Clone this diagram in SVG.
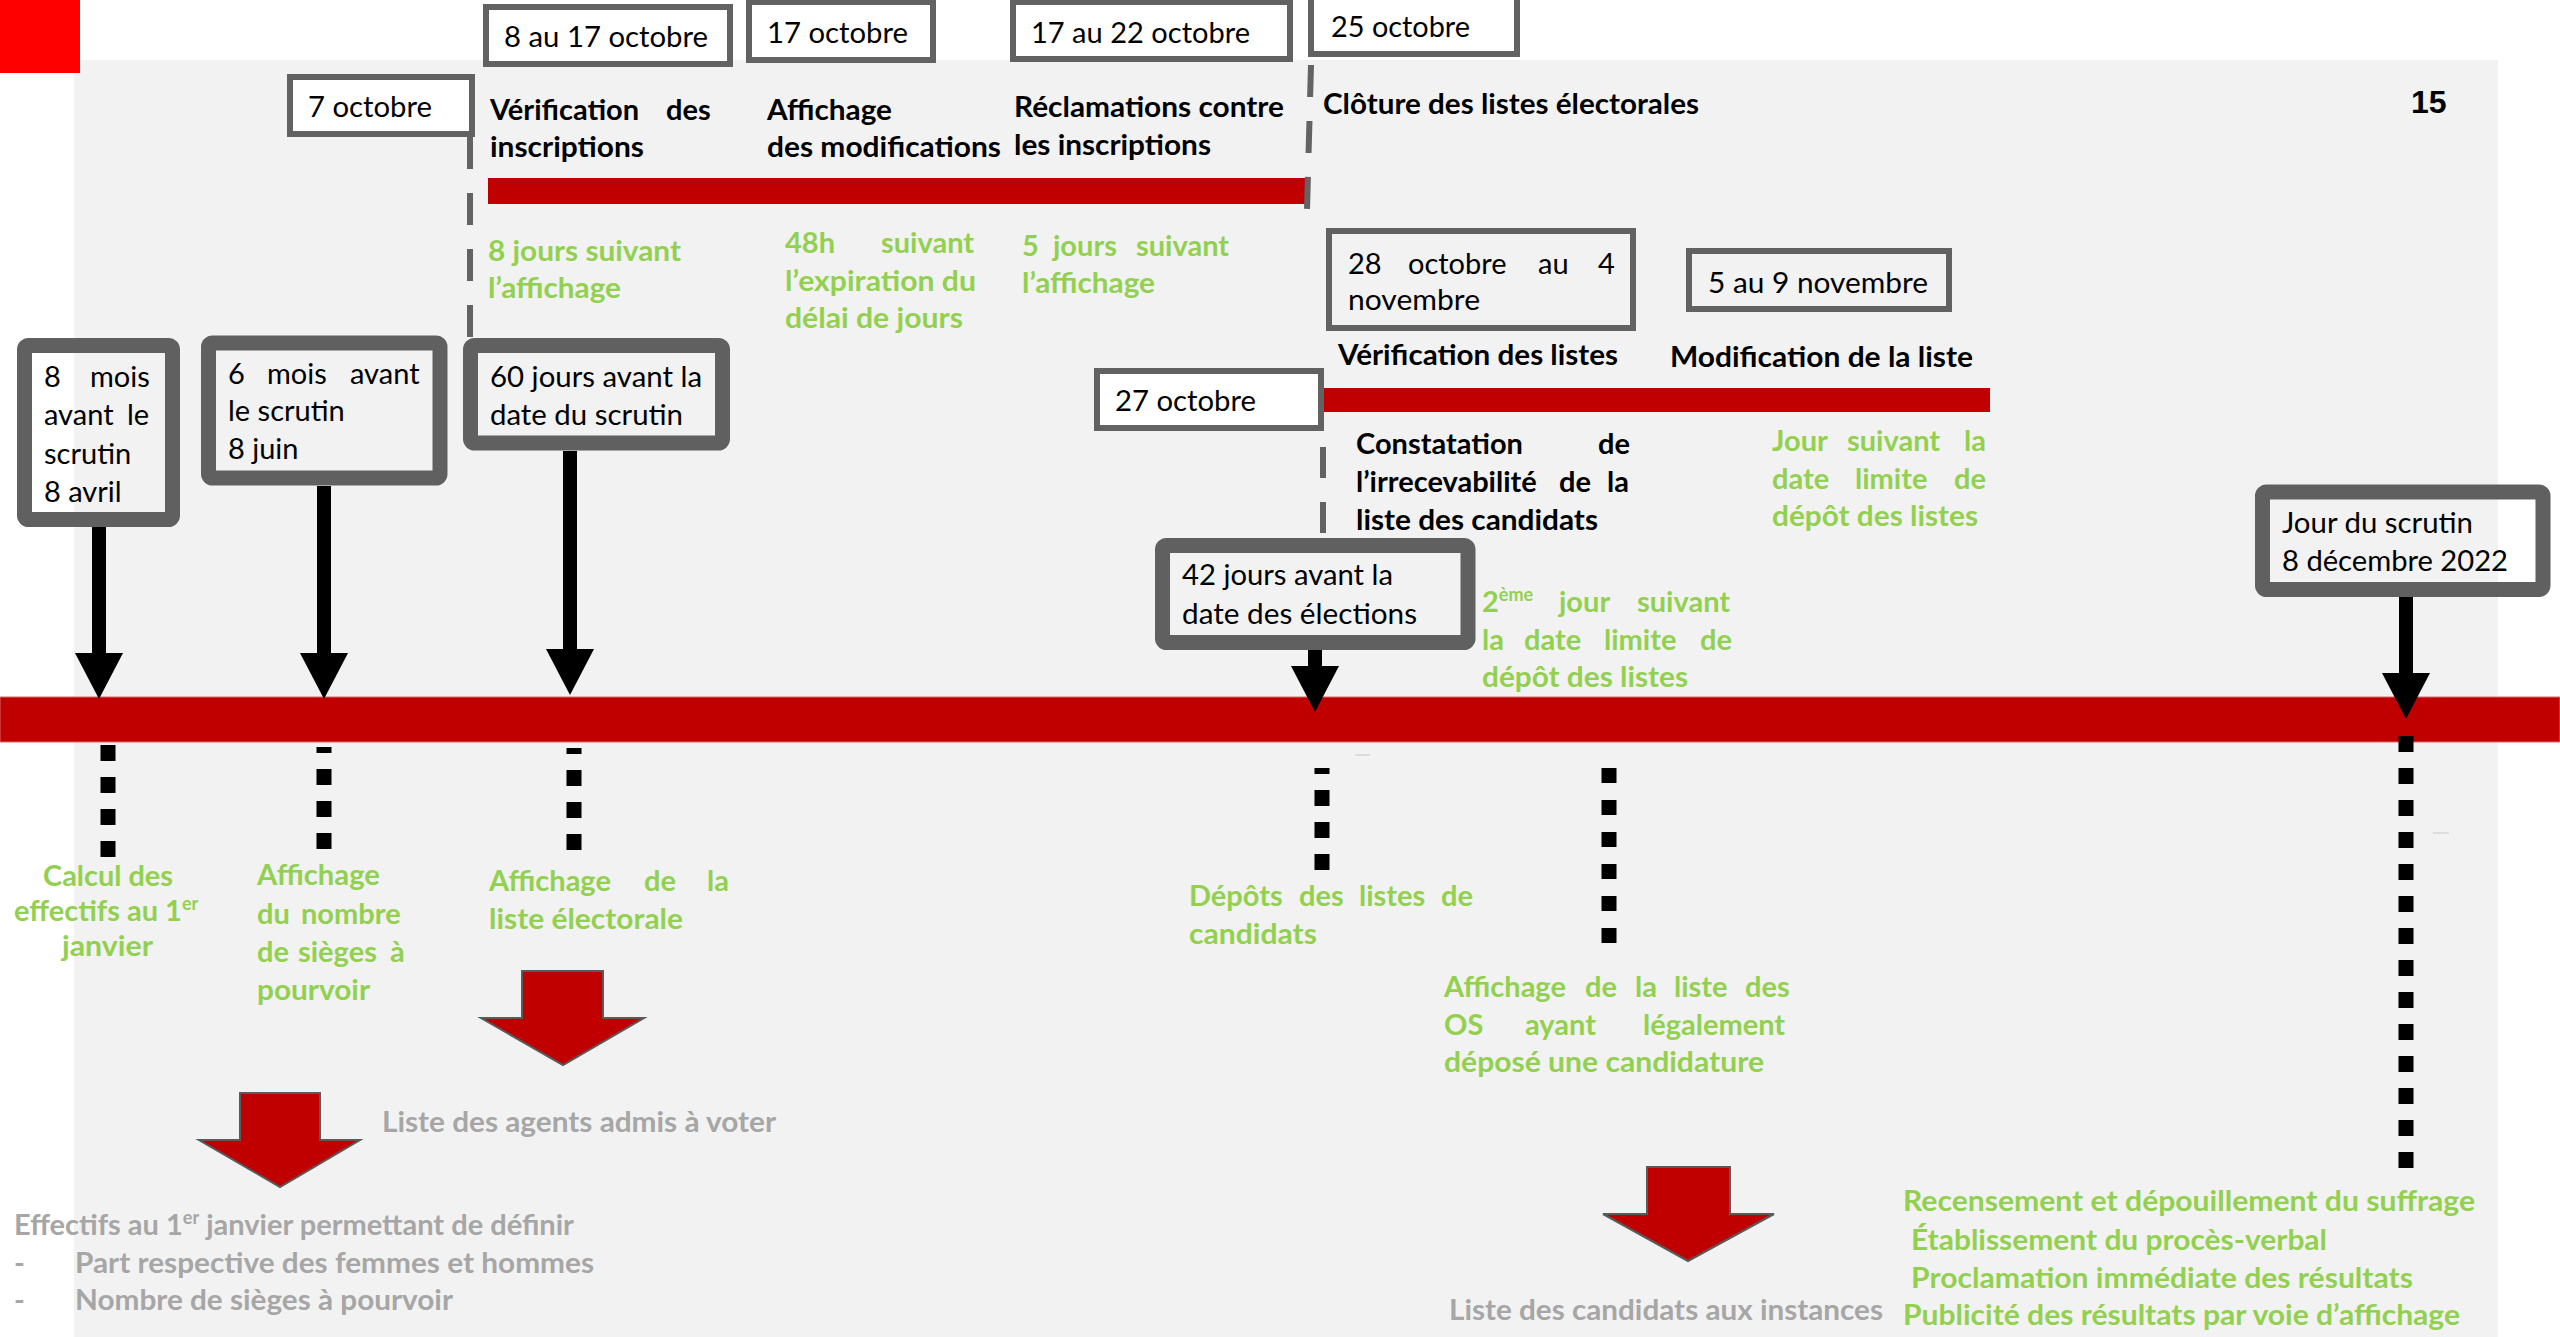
<svg xmlns="http://www.w3.org/2000/svg" width="2560" height="1337" viewBox="0 0 2560 1337">
<defs>
<style>
text{font-family:Lato,"Liberation Sans",sans-serif;}
.r{font-size:29px;fill:#000;}
.k{font-size:29px;font-weight:bold;fill:#000;}
.g{font-size:29px;font-weight:bold;fill:#92d050;}
.s{font-size:29px;font-weight:bold;fill:#a6a6a6;}
.tb{fill:#fff;stroke:#626262;stroke-width:6;}
.tn{fill:none;stroke:#626262;stroke-width:6;}
.tk{fill:none;stroke:#606060;stroke-width:15;}
.bar{fill:#c00000;}
.dash{stroke:#636363;stroke-width:6;stroke-dasharray:32 24;fill:none;}
.dot{stroke:#000;stroke-width:15;stroke-dasharray:16 16;fill:none;}
.shaft{stroke:#000;stroke-width:14;fill:none;marker-end:url(#ah);}
.blk{fill:#c00000;stroke:#5a5a5a;stroke-width:2;}
.sup{font-size:18px;}
</style>
<marker id="ah" viewBox="0 0 46 48" refX="0" refY="24" markerWidth="46" markerHeight="48" markerUnits="userSpaceOnUse" orient="auto"><path d="M0,0 L46,24 L0,48 z" fill="#000"/></marker>
</defs>

<rect x="0" y="0" width="2560" height="1337" fill="#ffffff"/>
<rect id="background" x="74" y="60" width="2424" height="1277" fill="#f2f2f2"/>
<rect id="corner" x="0" y="0" width="80" height="73" fill="#ff0000"/>

<g id="timeline">
<rect class="bar" x="0" y="697" width="2560" height="45" stroke="#d86a6a" stroke-width="1"/>
<rect class="bar" x="488" y="178" width="817" height="26"/>
<rect class="bar" x="1317" y="388" width="673" height="24"/>
</g>

<g id="connectors">
<line class="dash" x1="470" y1="137" x2="470" y2="340"/>
<line class="dash" x1="1311" y1="65" x2="1307" y2="210"/>
<line class="dash" x1="1323" y1="447" x2="1323" y2="536" style="stroke-dasharray:31 24"/>
<line class="shaft" x1="99" y1="527" x2="99" y2="653"/>
<line class="shaft" x1="324" y1="486" x2="324" y2="653"/>
<line class="shaft" x1="570" y1="451" x2="570" y2="649"/>
<line class="shaft" x1="1315" y1="650" x2="1315" y2="666"/>
<line class="shaft" x1="2406" y1="597" x2="2406" y2="673"/>
<line class="dot" x1="108" y1="745" x2="108" y2="857"/>
<line class="dot" x1="324" y1="747" x2="324" y2="849" stroke-dashoffset="10"/>
<line class="dot" x1="574" y1="748" x2="574" y2="851" stroke-dashoffset="10"/>
<line class="dot" x1="1322" y1="768" x2="1322" y2="870" stroke-dashoffset="10"/>
<line class="dot" x1="1609" y1="768" x2="1609" y2="943" style="stroke-dasharray:15 17"/>
<line class="dot" x1="2406" y1="736" x2="2406" y2="1168"/>
<line x1="1355" y1="755" x2="1370" y2="755" stroke="#c8c8c8" stroke-width="1"/>
<line x1="2433" y1="833" x2="2449" y2="833" stroke="#c8c8c8" stroke-width="1"/>
</g>

<g id="page-number"><text x="2411" y="113" style="font-family:'Liberation Sans',Arial,sans-serif;font-size:32px;font-weight:bold;fill:#000">15</text></g>

<g id="n-7-octobre">
<rect class="tb" x="290" y="77" width="182" height="57"/>
<text class="r" x="308" y="117" textLength="124" lengthAdjust="spacingAndGlyphs">7 octobre</text>
</g>
<g id="n-8-17-octobre">
<rect class="tb" x="486" y="7" width="244" height="57"/>
<text class="r" x="504" y="47" textLength="204" lengthAdjust="spacingAndGlyphs">8 au 17 octobre</text>
</g>
<g id="n-17-octobre">
<rect class="tb" x="749" y="2" width="184" height="58"/>
<text class="r" x="767" y="43" textLength="141" lengthAdjust="spacingAndGlyphs">17 octobre</text>
</g>
<g id="n-17-22-octobre">
<rect class="tb" x="1013" y="2" width="277" height="57"/>
<text class="r" x="1031" y="43" textLength="219" lengthAdjust="spacingAndGlyphs">17 au 22 octobre</text>
</g>
<g id="n-25-octobre">
<rect class="tb" x="1311" y="-3" width="206" height="57"/>
<text class="r" x="1331" y="37" textLength="139" lengthAdjust="spacingAndGlyphs">25 octobre</text>
</g>
<g id="n-28-oct-4-nov">
<rect class="tn" x="1329" y="231" width="304" height="97"/>
<text class="r" y="274"><tspan x="1348">28</tspan><tspan x="1408">octobre</tspan><tspan x="1538">au</tspan><tspan x="1598">4</tspan></text>
<text class="r" x="1348" y="310" textLength="132" lengthAdjust="spacingAndGlyphs">novembre</text>
</g>
<g id="n-5-9-novembre">
<rect class="tn" x="1689" y="251" width="260" height="58"/>
<text class="r" x="1708" y="293" textLength="220" lengthAdjust="spacingAndGlyphs">5 au 9 novembre</text>
</g>
<g id="n-27-octobre">
<rect class="tb" x="1097" y="371" width="224" height="57"/>
<text class="r" x="1115" y="411" textLength="141" lengthAdjust="spacingAndGlyphs">27 octobre</text>
</g>

<g id="n-8-mois">
<rect class="tk" x="24.5" y="345.5" width="148" height="174" rx="4"/>
<text class="r" y="387"><tspan x="44">8</tspan><tspan x="90">mois</tspan></text>
<text class="r" y="425"><tspan x="44">avant</tspan><tspan x="127">le</tspan></text>
<text class="r" x="44" y="464">scrutin</text>
<text class="r" x="44" y="502">8 avril</text>
</g>
<g id="n-6-mois">
<rect class="tk" x="208.5" y="343" width="231.5" height="135" rx="4"/>
<text class="r" y="384"><tspan x="228">6</tspan><tspan x="267">mois</tspan><tspan x="350">avant</tspan></text>
<text class="r" x="228" y="421">le scrutin</text>
<text class="r" x="228" y="459">8 juin</text>
</g>
<g id="n-60-jours">
<rect class="tk" x="470.5" y="345.5" width="252" height="97.5" rx="4"/>
<text class="r" x="490" y="387" textLength="212" lengthAdjust="spacingAndGlyphs">60 jours avant la</text>
<text class="r" x="490" y="425" textLength="193" lengthAdjust="spacingAndGlyphs">date du scrutin</text>
</g>
<g id="n-42-jours">
<rect class="tk" x="1162.5" y="545.5" width="305.5" height="97" rx="4"/>
<text class="r" x="1182" y="585" textLength="211" lengthAdjust="spacingAndGlyphs">42 jours avant la</text>
<text class="r" x="1182" y="624" textLength="235" lengthAdjust="spacingAndGlyphs">date des élections</text>
</g>
<g id="n-jour-scrutin">
<rect class="tk" x="2262.5" y="492" width="280.5" height="97.5" rx="4"/>
<text class="r" x="2282" y="533" textLength="191" lengthAdjust="spacingAndGlyphs">Jour du scrutin</text>
<text class="r" x="2282" y="571" textLength="226" lengthAdjust="spacingAndGlyphs">8 décembre 2022</text>
</g>

<g id="l-verification-inscriptions">
<text class="k" y="120"><tspan x="490">Vérification</tspan><tspan x="666">des</tspan></text>
<text class="k" x="490" y="157" textLength="154" lengthAdjust="spacingAndGlyphs">inscriptions</text>
</g>
<g id="l-affichage-modifications">
<text class="k" x="767" y="120" textLength="125" lengthAdjust="spacingAndGlyphs">Affichage</text>
<text class="k" x="767" y="157" textLength="234" lengthAdjust="spacingAndGlyphs">des modifications</text>
</g>
<g id="l-reclamations">
<text class="k" x="1014" y="117" textLength="270" lengthAdjust="spacingAndGlyphs">Réclamations contre</text>
<text class="k" x="1014" y="155" textLength="197" lengthAdjust="spacingAndGlyphs">les inscriptions</text>
</g>
<g id="l-cloture">
<text class="k" x="1323" y="114" textLength="376" lengthAdjust="spacingAndGlyphs">Clôture des listes électorales</text>
</g>
<g id="l-verification-listes">
<text class="k" x="1338" y="365" textLength="280" lengthAdjust="spacingAndGlyphs">Vérification des listes</text>
</g>
<g id="l-modification-liste">
<text class="k" x="1670" y="367" textLength="303" lengthAdjust="spacingAndGlyphs">Modification de la liste</text>
</g>
<g id="l-constatation">
<text class="k" y="454"><tspan x="1356">Constatation</tspan><tspan x="1598">de</tspan></text>
<text class="k" y="492"><tspan x="1356">l’irrecevabilité</tspan><tspan x="1559">de</tspan><tspan x="1607">la</tspan></text>
<text class="k" x="1356" y="530" textLength="242" lengthAdjust="spacingAndGlyphs">liste des candidats</text>
</g>

<g id="g-8-jours">
<text class="g" x="488" y="261" textLength="193" lengthAdjust="spacingAndGlyphs">8 jours suivant</text>
<text class="g" x="488" y="298" textLength="133" lengthAdjust="spacingAndGlyphs">l’affichage</text>
</g>
<g id="g-48h">
<text class="g" y="253"><tspan x="785">48h</tspan><tspan x="881">suivant</tspan></text>
<text class="g" x="785" y="291" textLength="191" lengthAdjust="spacingAndGlyphs">l’expiration du</text>
<text class="g" x="785" y="328" textLength="178" lengthAdjust="spacingAndGlyphs">délai de jours</text>
</g>
<g id="g-5-jours">
<text class="g" y="256"><tspan x="1022">5</tspan><tspan x="1053">jours</tspan><tspan x="1136">suivant</tspan></text>
<text class="g" x="1022" y="293" textLength="133" lengthAdjust="spacingAndGlyphs">l’affichage</text>
</g>
<g id="g-jour-suivant">
<text class="g" y="451"><tspan x="1772">Jour</tspan><tspan x="1847">suivant</tspan><tspan x="1964">la</tspan></text>
<text class="g" y="489"><tspan x="1772">date</tspan><tspan x="1855">limite</tspan><tspan x="1954">de</tspan></text>
<text class="g" x="1772" y="526" textLength="206" lengthAdjust="spacingAndGlyphs">dépôt des listes</text>
</g>
<g id="g-2eme-jour">
<text class="g" y="612"><tspan x="1482">2</tspan><tspan class="sup" dy="-11">ème</tspan><tspan x="1559" dy="11">jour</tspan><tspan x="1637">suivant</tspan></text>
<text class="g" y="650"><tspan x="1482">la</tspan><tspan x="1524">date</tspan><tspan x="1604">limite</tspan><tspan x="1700">de</tspan></text>
<text class="g" x="1482" y="687" textLength="206" lengthAdjust="spacingAndGlyphs">dépôt des listes</text>
</g>
<g id="g-calcul">
<text class="g" x="43" y="886" textLength="130" lengthAdjust="spacingAndGlyphs">Calcul des</text>
<text class="g" x="14" y="921">effectifs au 1<tspan class="sup" dy="-11">er</tspan></text>
<text class="g" x="62" y="956" textLength="91" lengthAdjust="spacingAndGlyphs">janvier</text>
</g>
<g id="g-affichage-sieges">
<text class="g" x="257" y="885" textLength="123" lengthAdjust="spacingAndGlyphs">Affichage</text>
<text class="g" y="924"><tspan x="257">du</tspan><tspan x="301">nombre</tspan></text>
<text class="g" y="962"><tspan x="257">de</tspan><tspan x="298">sièges</tspan><tspan x="390">à</tspan></text>
<text class="g" x="257" y="1000" textLength="113" lengthAdjust="spacingAndGlyphs">pourvoir</text>
</g>
<g id="g-affichage-liste">
<text class="g" y="891"><tspan x="489">Affichage</tspan><tspan x="644">de</tspan><tspan x="707">la</tspan></text>
<text class="g" x="489" y="929" textLength="194" lengthAdjust="spacingAndGlyphs">liste électorale</text>
</g>
<g id="g-depots">
<text class="g" y="906"><tspan x="1189">Dépôts</tspan><tspan x="1299">des</tspan><tspan x="1359">listes</tspan><tspan x="1441">de</tspan></text>
<text class="g" x="1189" y="944" textLength="128" lengthAdjust="spacingAndGlyphs">candidats</text>
</g>
<g id="g-affichage-os">
<text class="g" y="997"><tspan x="1444">Affichage</tspan><tspan x="1585">de</tspan><tspan x="1635">la</tspan><tspan x="1674">liste</tspan><tspan x="1745">des</tspan></text>
<text class="g" y="1035"><tspan x="1444">OS</tspan><tspan x="1525">ayant</tspan><tspan x="1643">légalement</tspan></text>
<text class="g" x="1444" y="1072" textLength="320" lengthAdjust="spacingAndGlyphs">déposé une candidature</text>
</g>
<g id="g-resultats">
<text class="g" x="1903" y="1211" textLength="572" lengthAdjust="spacingAndGlyphs">Recensement et dépouillement du suffrage</text>
<text class="g" x="1911" y="1250" textLength="416" lengthAdjust="spacingAndGlyphs">Établissement du procès-verbal</text>
<text class="g" x="1911" y="1288" textLength="502" lengthAdjust="spacingAndGlyphs">Proclamation immédiate des résultats</text>
<text class="g" x="1903" y="1325" textLength="557" lengthAdjust="spacingAndGlyphs">Publicité des résultats par voie d’affichage</text>
</g>

<g id="out-liste-agents">
<polygon class="blk" points="522,971 603,971 603,1018 644,1018 563,1065 481,1018 522,1018"/>
<text class="s" x="382" y="1132" textLength="394" lengthAdjust="spacingAndGlyphs">Liste des agents admis à voter</text>
</g>
<g id="out-effectifs">
<polygon class="blk" points="240,1093 320,1093 320,1140 360,1140 280,1187 199,1140 240,1140"/>
<text class="s" x="14" y="1235">Effectifs au 1<tspan class="sup" dy="-11">er</tspan><tspan dy="11"> janvier permettant de définir</tspan></text>
<text class="s" x="14" y="1273">-</text>
<text class="s" x="75" y="1273" textLength="519" lengthAdjust="spacingAndGlyphs">Part respective des femmes et hommes</text>
<text class="s" x="14" y="1310">-</text>
<text class="s" x="75" y="1310" textLength="378" lengthAdjust="spacingAndGlyphs">Nombre de sièges à pourvoir</text>
</g>
<g id="out-candidats">
<polygon class="blk" points="1647,1167 1730,1167 1730,1214 1774,1214 1688,1261 1603,1214 1647,1214"/>
<text class="s" x="1449" y="1320" textLength="434" lengthAdjust="spacingAndGlyphs">Liste des candidats aux instances</text>
</g>
</svg>
